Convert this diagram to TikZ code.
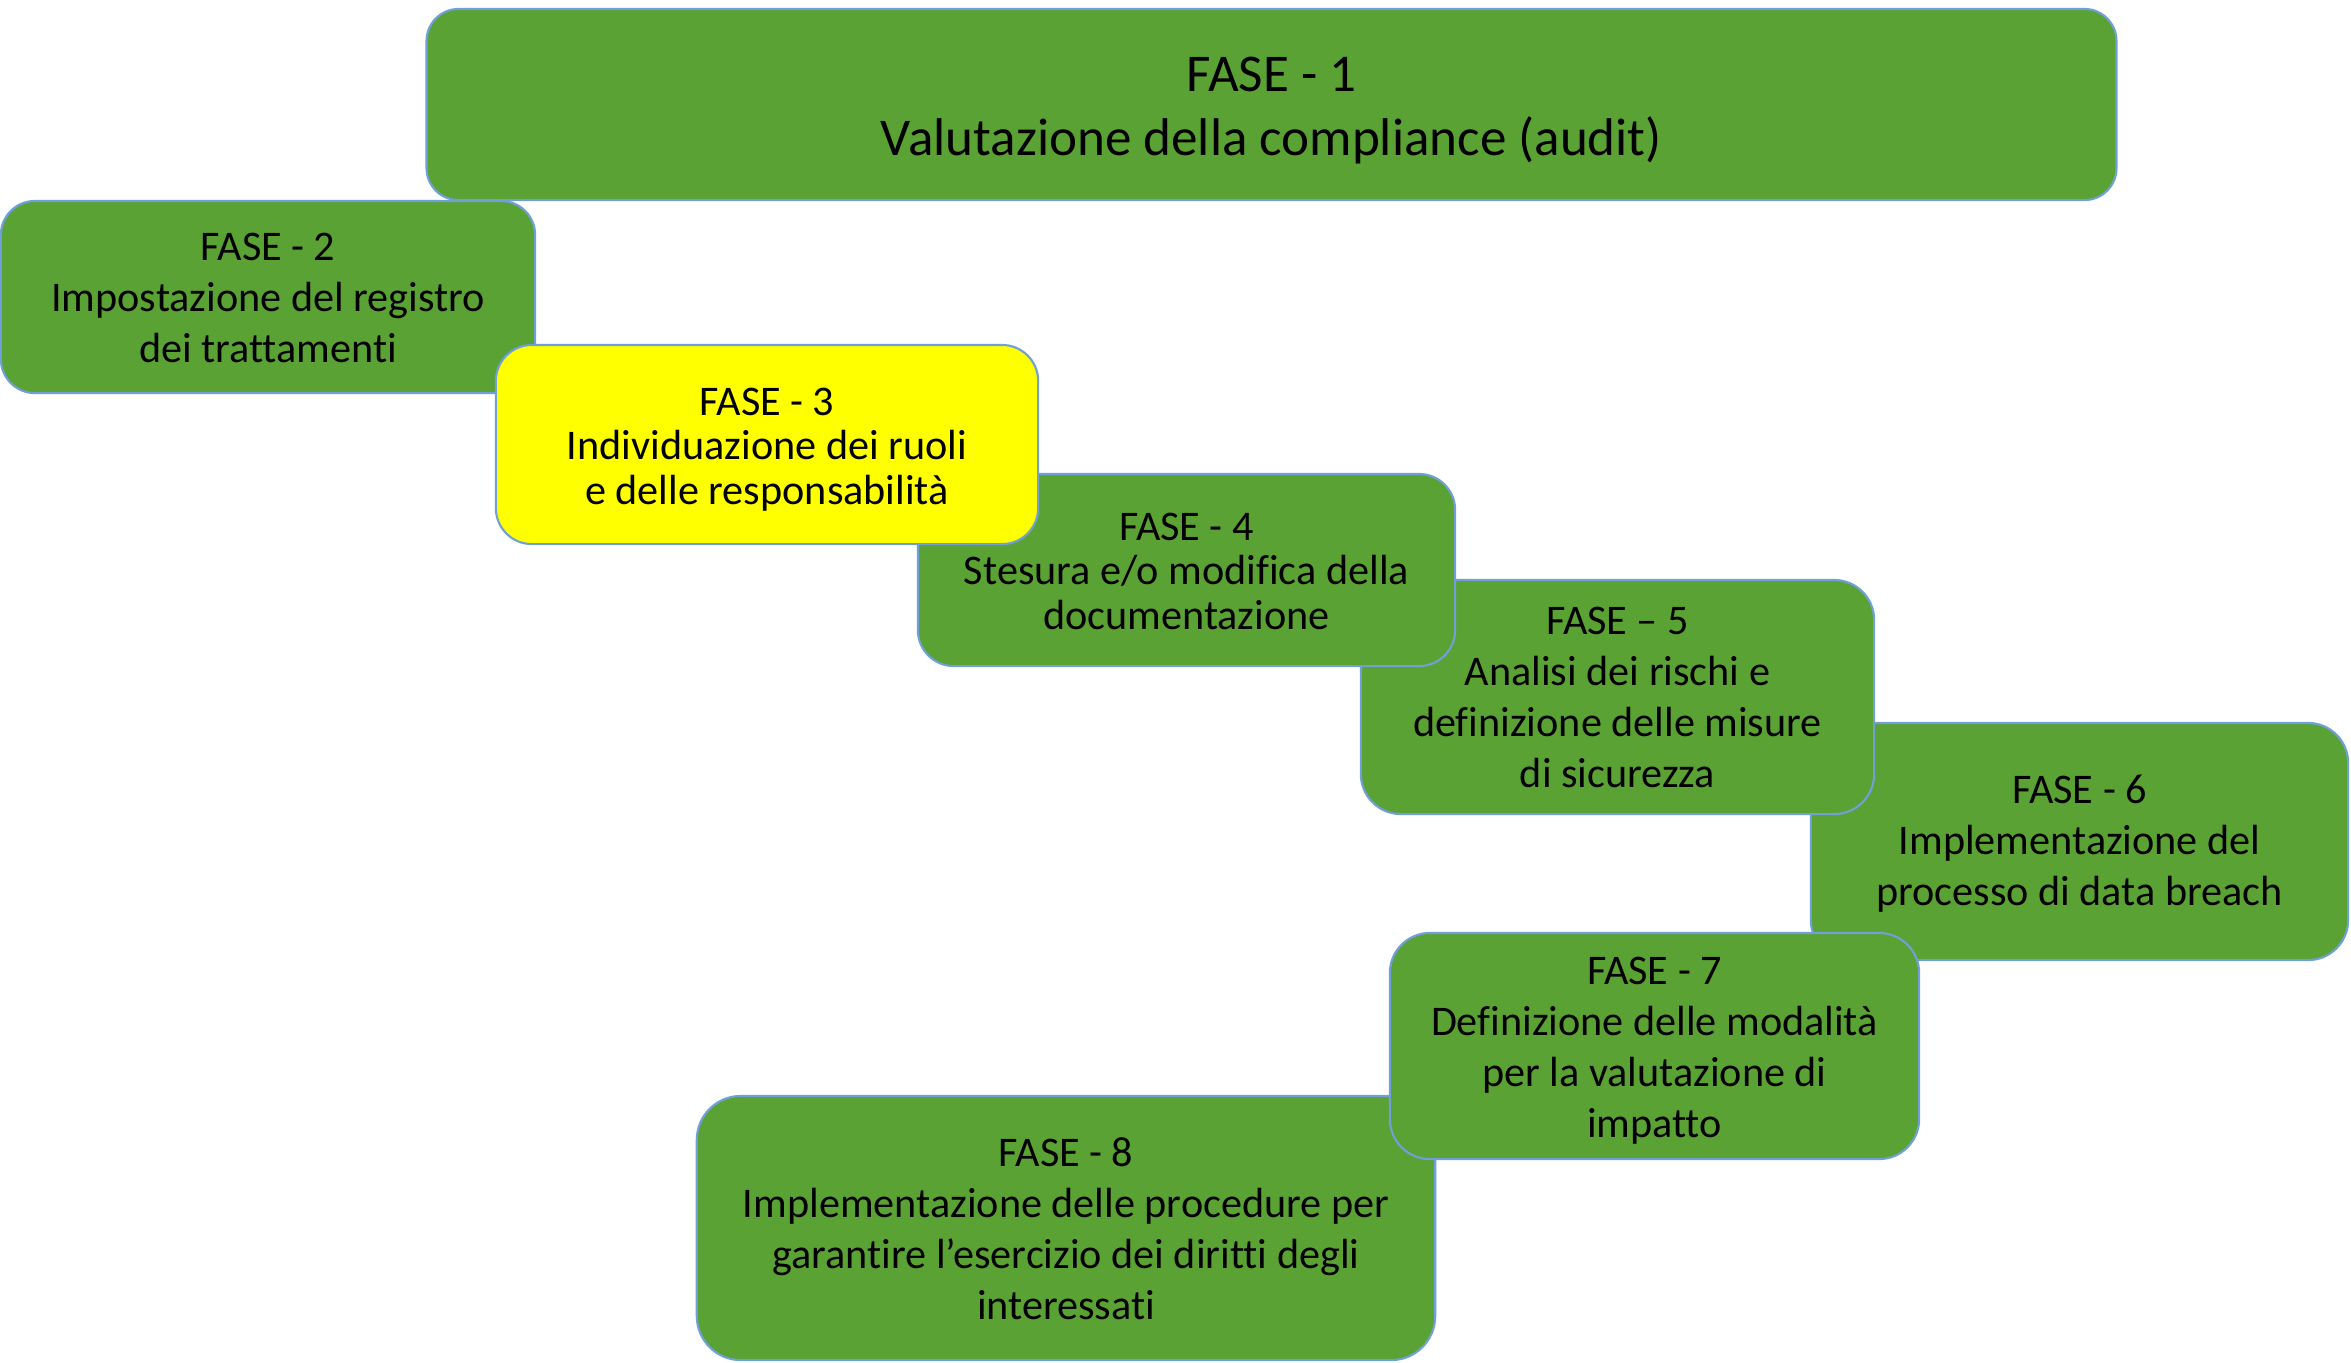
\documentclass[tikz,border=0pt]{standalone}
\usepackage{fontspec}
\setmainfont[Ligatures=NoCommon]{Carlito}
% invisible strut that pushes a node's text block down a little
\newcommand\lowerby[1]{\rule{0pt}{#1}}
\begin{document}
\definecolor{phasegreen}{RGB}{90,162,52}
\definecolor{phaseyellow}{RGB}{255,255,0}
\definecolor{phaseedge}{RGB}{112,160,215}
\begin{tikzpicture}[x=0.01cm,y=-0.01cm,
  phase/.style={draw=phaseedge, line width=0.6pt, fill=phasegreen,
    inner sep=0pt, align=center, text=black,
    font=\fontsize{12}{14.5}\selectfont},
  tight/.style={font=\fontsize{12}{12.6}\selectfont},
  title/.style={font=\fontsize{15.1}{18.2}\selectfont}]
\useasboundingbox (0,0) rectangle (2351,1362);

% phases, drawn back to front
\node[phase, minimum width=5.34cm, minimum height=1.92cm, rounded corners=0.34cm]
  (f2) at (268,297) {\lowerby{8.6pt}FASE - 2\\Impostazione del registro\\dei trattamenti};
\node[phase, title, minimum width=16.89cm, minimum height=1.91cm, rounded corners=0.32cm]
  (f1) at (1271.5,104.5) {\lowerby{13.2pt}FASE - 1\\Valutazione della compliance (audit)};
\node[phase, minimum width=5.37cm, minimum height=2.37cm, rounded corners=0.40cm]
  (f6) at (2079.5,841.5) {\lowerby{9.5pt}FASE - 6\\Implementazione del\\processo di data breach};
\node[phase, minimum width=5.13cm, minimum height=2.34cm, rounded corners=0.40cm]
  (f5) at (1617.5,697) {FASE – 5\\Analisi dei rischi e\\definizione delle misure\\di sicurezza};
\node[phase, tight, minimum width=5.37cm, minimum height=1.92cm, rounded corners=0.36cm]
  (f4) at (1186.5,570) {\lowerby{8.6pt}FASE - 4\\Stesura e/o modifica della\\documentazione};
\node[phase, tight, fill=phaseyellow, minimum width=5.42cm, minimum height=1.99cm, rounded corners=0.36cm]
  (f3) at (767,444.5) {\lowerby{10.6pt}FASE - 3\\Individuazione dei ruoli\\e delle responsabilità};
\node[phase, minimum width=7.38cm, minimum height=2.64cm, rounded corners=0.44cm]
  (f8) at (1066,1228) {\lowerby{8.6pt}FASE - 8\\Implementazione delle procedure per\\garantire l’esercizio dei diritti degli\\interessati};
\node[phase, minimum width=5.29cm, minimum height=2.26cm, rounded corners=0.40cm]
  (f7) at (1654.5,1046) {\lowerby{10.6pt}FASE - 7\\Definizione delle modalità\\per la valutazione di\\impatto};
\end{tikzpicture}
\end{document}
